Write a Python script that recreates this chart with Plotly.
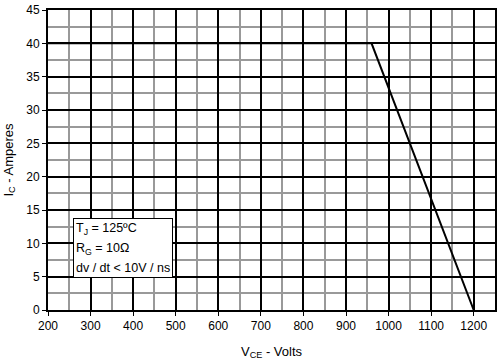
import plotly.graph_objects as go

vce = [200, 960, 1200]
ic = [40, 40, 0]
x_ticks = [200, 300, 400, 500, 600, 700, 800, 900, 1000, 1100, 1200]
x_minor = [250, 350, 450, 550, 650, 750, 850, 950, 1050, 1150, 1250]
y_ticks = [0, 5, 10, 15, 20, 25, 30, 35, 40, 45]
y_minor = [2.5, 7.5, 12.5, 17.5, 22.5, 27.5, 32.5, 37.5, 42.5]
note_lines = ["T<sub>J</sub> = 125ºC", "R<sub>G</sub> = 10Ω", "dv / dt < 10V / ns"]

fig = go.Figure()
fig.add_trace(go.Scatter(x=vce, y=ic, mode="lines",
                         line=dict(color="black", width=2), showlegend=False))

font = dict(family="Liberation Sans, Arial, sans-serif", size=12, color="black")

fig.update_layout(
    width=503, height=364,
    margin=dict(l=48, r=8, t=10, b=54),
    paper_bgcolor="white", plot_bgcolor="white",
    font=font,
    xaxis=dict(range=[200, 1250], tickmode="array", tickvals=x_ticks, ticks="outside", ticklen=4,
               tickcolor="black", tickwidth=1, showline=True, linecolor="black", linewidth=2,
               mirror=True, showgrid=True, gridcolor="black", gridwidth=2,
               minor=dict(tickmode="array", tickvals=x_minor, showgrid=True,
                          gridcolor="#999999", gridwidth=2, ticks=""),
               zeroline=False, automargin=False,
               title=dict(text="V<sub>CE</sub> - Volts", font=dict(size=13), standoff=14)),
    yaxis=dict(range=[0, 45], tickmode="array", tickvals=y_ticks, ticks="outside", ticklen=4,
               tickcolor="black", tickwidth=1, showline=True, linecolor="black", linewidth=2,
               mirror=True, showgrid=True, gridcolor="black", gridwidth=2,
               minor=dict(tickmode="array", tickvals=y_minor, showgrid=True,
                          gridcolor="#999999", gridwidth=2, ticks=""),
               zeroline=False, automargin=False,
               title=dict(text="I<sub>C</sub> - Amperes", font=dict(size=13), standoff=10)),
)

note_text = "<br>".join("<span style='font-size:12.5px'>" + s + "</span>" for s in note_lines)
fig.add_annotation(x=0.056, y=0.307, xref="paper", yref="paper", xanchor="left", yanchor="top",
                   text=note_text, align="left", showarrow=False,
                   bgcolor="white", bordercolor="black", borderwidth=1, borderpad=2,
                   font=dict(size=15.5))

fig.write_html("out.html", config={"displayModeBar": False},
               post_script="document.body.style.margin='0';document.body.style.padding='0';")
